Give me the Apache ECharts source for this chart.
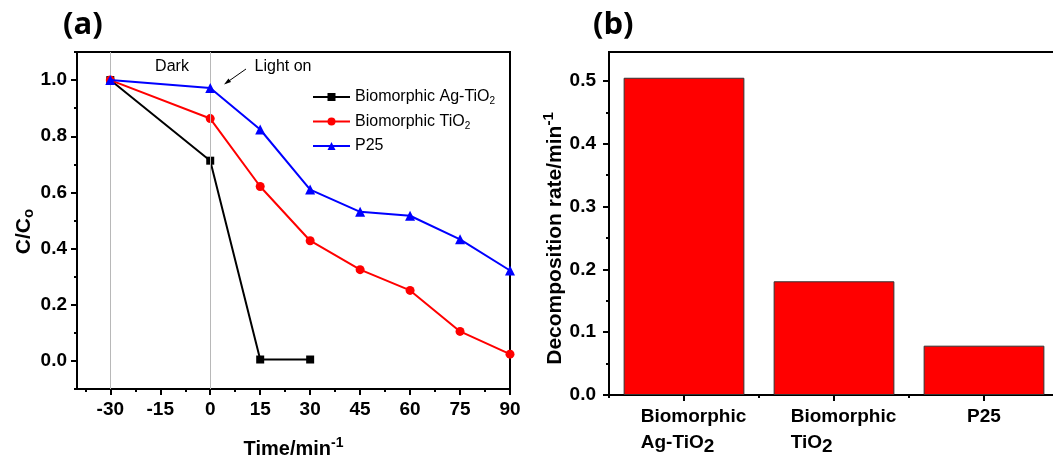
<!DOCTYPE html>
<html>
<head>
<meta charset="utf-8">
<script src="https://cdn.jsdelivr.net/npm/echarts@6/dist/echarts.min.js"></script>
<style>html,body{margin:0;padding:0;background:#fff;}#c{width:1053px;height:460px;}</style>
</head>
<body>
<div id="c"></div>
<script>
// ---- data ----
const timeMin = [-30, 0, 15, 30, 45, 60, 75, 90];
const agTiO2 = [1.0, 0.713, 0.005, 0.005, null, null, null, null];
const bioTiO2 = [1.0, 0.863, 0.621, 0.428, 0.325, 0.251, 0.105, 0.024];
const p25 = [1.0, 0.972, 0.824, 0.610, 0.531, 0.517, 0.433, 0.322];
const seriesNames = ['Biomorphic Ag-TiO2', 'Biomorphic TiO2', 'P25'];
const xMajorTicks = [-30, -15, 0, 15, 30, 45, 60, 75, 90];
const xMinorTicks = [-37.5, -22.5, -7.5, 7.5, 22.5, 37.5, 52.5, 67.5, 82.5];
const yMajorTicks = [0, 0.2, 0.4, 0.6, 0.8, 1.0];
const yMinorTicks = [-0.1, 0.1, 0.3, 0.5, 0.7, 0.9, 1.1];
const barCats = ['Biomorphic Ag-TiO2', 'Biomorphic TiO2', 'P25'];
const barRates = [0.505, 0.181, 0.0785];
const y2MajorTicks = [0, 0.1, 0.2, 0.3, 0.4, 0.5];
const y2MinorTicks = [0.05, 0.15, 0.25, 0.35, 0.45];

const FONT = 'Liberation Sans, Arial, sans-serif';
const chart = echarts.init(document.getElementById('c'), null, {renderer: 'canvas'});

const pair = (xs, ys) => xs.map((x, i) => [x, ys[i]]).filter(p => p[1] !== null);
const fmt1 = v => (Math.abs(v) < 1e-9 ? 0 : v).toFixed(1);

const tickLabel = {color: '#000', fontFamily: FONT, fontWeight: 'bold', fontSize: 19};
const blackLine = {show: true, onZero: false, lineStyle: {color: '#000', width: 2}};
const noLine = {show: false, onZero: false};

function legendName(n) { return n.replace('TiO2', 'TiO{sub|2}'); }
function barLabel(n) {
  if (n === 'P25') return '{t|P25}';
  const parts = n.split(' ');
  return '{t|' + parts[0] + '}\n{t|' + parts[1].replace('TiO2', 'TiO}{s|2}');
}
const catData = barCats.map(c => c === 'P25' ? {value: c} : {value: c, textStyle: {padding: [0, 0, 0, 19]}});

chart.setOption({
  animation: false,
  backgroundColor: '#fff',
  grid: [
    {left: 77, top: 52, width: 433, height: 337, show: true, borderColor: '#000', borderWidth: 2,
     backgroundColor: 'transparent', outerBoundsMode: 'none'},
    {left: 609, top: 52, width: 450, height: 343, show: true, borderColor: '#000', borderWidth: 2,
     backgroundColor: 'transparent', outerBoundsMode: 'none'}
  ],
  xAxis: [
    {gridIndex: 0, type: 'value', min: -40, max: 90, position: 'bottom',
     axisLine: blackLine, splitLine: {show: false},
     axisTick: {show: true, customValues: xMajorTicks, length: 6, lineStyle: {color: '#000', width: 2}},
     axisLabel: Object.assign({customValues: xMajorTicks, margin: 11, formatter: v => String(v)}, tickLabel),
     name: 'Time/min{sup|-1}', nameLocation: 'middle', nameGap: 47,
     nameTextStyle: {color: '#000', fontFamily: FONT, fontWeight: 'bold', fontSize: 20,
       rich: {sup: {fontSize: 14, fontWeight: 'bold', color: '#000', fontFamily: FONT, verticalAlign: 'top', padding: [0, 0, 12, 0]}}}},
    {gridIndex: 0, type: 'value', min: -40, max: 90, position: 'bottom', offset: 0,
     axisLine: noLine, splitLine: {show: false}, axisLabel: {show: false},
     axisTick: {show: true, customValues: xMinorTicks, length: 3, lineStyle: {color: '#000', width: 2}}},
    {gridIndex: 1, type: 'category', data: catData, position: 'bottom',
     axisLine: blackLine, splitLine: {show: false},
     axisTick: {show: true, alignWithLabel: true, length: 6, lineStyle: {color: '#000', width: 2}},
     axisLabel: Object.assign({margin: 9, interval: 0, align: 'center', lineHeight: 26,
       formatter: barLabel,
       rich: {t: {fontSize: 19, fontWeight: 'bold', fontFamily: FONT, color: '#000', align: 'left', lineHeight: 26},
              s: {fontSize: 19, fontWeight: 'bold', fontFamily: FONT, color: '#000', align: 'left', padding: [8, 0, 0, 0]}}}, tickLabel)},
    {gridIndex: 1, type: 'category', data: barCats, position: 'bottom', offset: 0,
     axisLine: noLine, axisLabel: {show: false}, splitLine: {show: false},
     axisTick: {show: true, alignWithLabel: false, length: 3, lineStyle: {color: '#000', width: 2}}}
  ],
  yAxis: [
    {gridIndex: 0, type: 'value', min: -0.1, max: 1.1, position: 'left',
     axisLine: blackLine, splitLine: {show: false},
     axisTick: {show: true, customValues: yMajorTicks, length: 6, lineStyle: {color: '#000', width: 2}},
     axisLabel: Object.assign({customValues: yMajorTicks, margin: 10, formatter: fmt1}, tickLabel),
     name: 'C/C{sub|o}', nameLocation: 'middle', nameGap: 40,
     nameTextStyle: {color: '#000', fontFamily: FONT, fontWeight: 'bold', fontSize: 21, padding: [0, 22, 0, 0],
       rich: {sub: {fontSize: 15, fontWeight: 'bold', color: '#000', fontFamily: FONT, padding: [10, 0, 0, 0]}}}},
    {gridIndex: 0, type: 'value', min: -0.1, max: 1.1, position: 'left', offset: 0,
     axisLine: noLine, splitLine: {show: false}, axisLabel: {show: false},
     axisTick: {show: true, customValues: yMinorTicks, length: 3, lineStyle: {color: '#000', width: 2}}},
    {gridIndex: 1, type: 'value', min: 0, max: 0.546, position: 'left',
     axisLine: blackLine, splitLine: {show: false},
     axisTick: {show: true, customValues: y2MajorTicks, length: 6, lineStyle: {color: '#000', width: 2}},
     axisLabel: Object.assign({customValues: y2MajorTicks, margin: 13, formatter: fmt1}, tickLabel),
     name: 'Decomposition rate/min{sup|-1}', nameLocation: 'middle', nameGap: 40,
     nameTextStyle: {color: '#000', fontFamily: FONT, fontWeight: 'bold', fontSize: 21, padding: [0, 30, 0, 0],
       rich: {sup: {fontSize: 15, fontWeight: 'bold', color: '#000', fontFamily: FONT, padding: [0, 0, 12, 0]}}}},
    {gridIndex: 1, type: 'value', min: 0, max: 0.546, position: 'left', offset: 0,
     axisLine: noLine, splitLine: {show: false}, axisLabel: {show: false},
     axisTick: {show: true, customValues: y2MinorTicks, length: 3, lineStyle: {color: '#000', width: 2}}}
  ],
  legend: {
    orient: 'vertical', left: 307, top: 84, itemWidth: 37, itemHeight: 10, itemGap: 7,
    data: seriesNames,
    formatter: legendName,
    textStyle: {color: '#000', fontFamily: FONT, fontSize: 16,
      rich: {sub: {fontSize: 10, color: '#000', fontFamily: FONT, padding: [9, 0, 0, 0]}}}
  },
  graphic: [
    {type: 'text', left: 63, top: 10, style: {text: '(a)', font: 'bold 31px "Open Sans", sans-serif', fill: '#000'}},
    {type: 'text', left: 593, top: 10, style: {text: '(b)', font: 'bold 31px "Open Sans", sans-serif', fill: '#000'}},
    {type: 'text', x: 172, y: 67, style: {text: 'Dark', font: '16px ' + FONT, fill: '#000', align: 'center', verticalAlign: 'middle'}},
    {type: 'text', x: 283, y: 67, style: {text: 'Light on', font: '16px ' + FONT, fill: '#000', align: 'center', verticalAlign: 'middle'}},
    {type: 'line', shape: {x1: 246, y1: 69, x2: 226, y2: 83}, style: {stroke: '#000', lineWidth: 1}},
    {type: 'polygon', shape: {points: [[224, 84.5], [228.5, 78.5], [231, 82]]}, style: {fill: '#000'}}
  ],
  series: [
    {name: seriesNames[0], type: 'line', xAxisIndex: 0, yAxisIndex: 0, data: pair(timeMin, agTiO2),
     symbol: 'rect', symbolSize: 8, lineStyle: {color: '#000', width: 2}, itemStyle: {color: '#000'},
     z: 3,
     markLine: {silent: true, symbol: 'none', label: {show: false},
       lineStyle: {color: '#b8b8b8', width: 1, type: 'solid'},
       data: [{xAxis: -30}, {xAxis: 0}]}},
    {name: seriesNames[1], type: 'line', xAxisIndex: 0, yAxisIndex: 0, data: pair(timeMin, bioTiO2),
     symbol: 'circle', symbolSize: 9, lineStyle: {color: '#ff0000', width: 2}, itemStyle: {color: '#ff0000'}, z: 4},
    {name: seriesNames[2], type: 'line', xAxisIndex: 0, yAxisIndex: 0, data: pair(timeMin, p25),
     symbol: 'triangle', symbolSize: 10, lineStyle: {color: '#0000ff', width: 2}, itemStyle: {color: '#0000ff'}, z: 5},
    {name: 'rate', type: 'bar', xAxisIndex: 2, yAxisIndex: 2, data: barRates, barWidth: '80.5%',
     itemStyle: {color: '#ff0000', borderColor: '#333', borderWidth: 1}}
  ]
});
</script>
</body>
</html>
